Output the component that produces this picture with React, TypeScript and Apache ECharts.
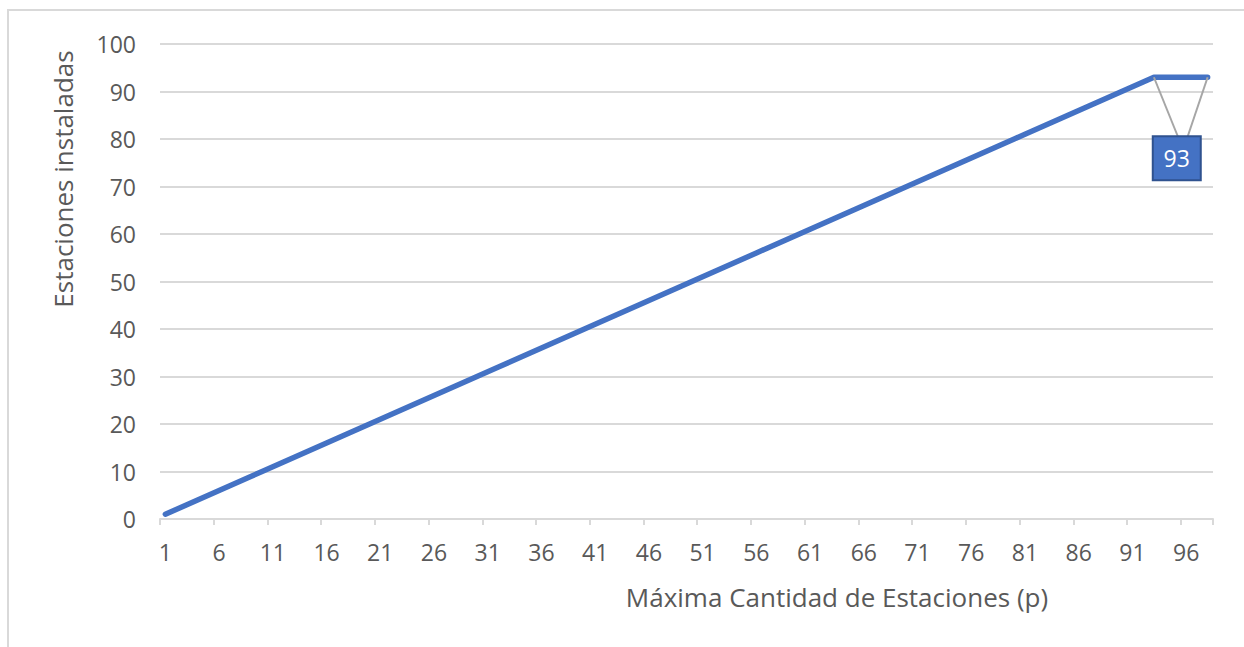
import React, { useEffect, useRef } from "react";
import * as echarts from "echarts";

const categories: string[] = [
  "1","2","3","4","5","6","7","8","9","10","11","12","13","14","15","16","17","18","19","20",
  "21","22","23","24","25","26","27","28","29","30","31","32","33","34","35","36","37","38","39","40",
  "41","42","43","44","45","46","47","48","49","50","51","52","53","54","55","56","57","58","59","60",
  "61","62","63","64","65","66","67","68","69","70","71","72","73","74","75","76","77","78","79","80",
  "81","82","83","84","85","86","87","88","89","90","91","92","93","94","95","96","97","98",
];

const installed: number[] = [
  1,2,3,4,5,6,7,8,9,10,11,12,13,14,15,16,17,18,19,20,
  21,22,23,24,25,26,27,28,29,30,31,32,33,34,35,36,37,38,39,40,
  41,42,43,44,45,46,47,48,49,50,51,52,53,54,55,56,57,58,59,60,
  61,62,63,64,65,66,67,68,69,70,71,72,73,74,75,76,77,78,79,80,
  81,82,83,84,85,86,87,88,89,90,91,92,93,93,93,93,93,93,
];

const labelFirstIndex = 92;
const labelLastIndex = 97;
const labelText = "93";

const FONT = "'Open Sans', sans-serif";

export default function App() {
  const ref = useRef<HTMLDivElement>(null);
  useEffect(() => {
    if (!ref.current) return;
    const chart = echarts.init(ref.current, null, { renderer: "svg" });
    chart.setOption({
      animation: false,
      backgroundColor: "#ffffff",
      textStyle: { fontFamily: FONT },
      grid: { left: 160, right: 31, top: 44, bottom: 128 },
      xAxis: {
        type: "category",
        data: categories,
        boundaryGap: true,
        axisLine: { lineStyle: { color: "#D9D9D9", width: 2 } },
        axisTick: { show: true, interval: 4, length: 6, lineStyle: { color: "#D9D9D9", width: 2 } },
        axisLabel: { interval: 4, color: "#595959", fontSize: 23, fontFamily: FONT, margin: 21 },
        splitLine: { show: false },
      },
      yAxis: {
        type: "value",
        min: 0,
        max: 100,
        interval: 10,
        axisLine: { show: false },
        axisTick: { show: false },
        axisLabel: { color: "#595959", fontSize: 23, fontFamily: FONT, margin: 24 },
        splitLine: { lineStyle: { color: "#D9D9D9", width: 2 } },
      },
      series: [
        {
          type: "line",
          data: installed,
          showSymbol: false,
          symbol: "none",
          lineStyle: { color: "#4472C4", width: 5.5, cap: "round", join: "round" },
        },
      ],
    });

    const p1 = chart.convertToPixel({ seriesIndex: 0 }, [labelFirstIndex, installed[labelFirstIndex]]) as number[];
    const p2 = chart.convertToPixel({ seriesIndex: 0 }, [labelLastIndex, installed[labelLastIndex]]) as number[];
    const boxW = 48;
    const boxH = 44;
    const cx = (p1[0] + p2[0]) / 2 - 4;
    const boxTop = p1[1] + 59;

    chart.setOption({
      graphic: [
        {
          type: "rect",
          shape: { x: 8, y: 10, width: 1300, height: 700 },
          style: { fill: "none", stroke: "#D9D9D9", lineWidth: 2 },
          silent: true,
          z: -10,
        },
        {
          type: "line",
          shape: { x1: p1[0], y1: p1[1], x2: cx + 1, y2: boxTop },
          style: { stroke: "#A6A6A6", lineWidth: 2 },
          z: 10,
        },
        {
          type: "line",
          shape: { x1: p2[0], y1: p2[1], x2: cx + 11, y2: boxTop },
          style: { stroke: "#A6A6A6", lineWidth: 2 },
          z: 10,
        },
        {
          type: "rect",
          shape: { x: cx - boxW / 2, y: boxTop, width: boxW, height: boxH },
          style: { fill: "#4472C4", stroke: "#2F528F", lineWidth: 2 },
          z: 11,
        },
        {
          type: "text",
          x: cx,
          y: boxTop + boxH / 2,
          style: {
            text: labelText,
            fill: "#ffffff",
            fontSize: 23,
            fontFamily: FONT,
            align: "center",
            verticalAlign: "middle",
          },
          z: 12,
        },
        {
          type: "text",
          x: 63,
          y: 179,
          rotation: Math.PI / 2,
          style: {
            text: "Estaciones instaladas",
            fill: "#595959",
            fontSize: 26,
            fontFamily: FONT,
            align: "center",
            verticalAlign: "middle",
          },
        },
        {
          type: "text",
          x: 837,
          y: 597,
          style: {
            text: "Máxima Cantidad de Estaciones (p)",
            fill: "#595959",
            fontSize: 26,
            fontFamily: FONT,
            align: "center",
            verticalAlign: "middle",
          },
        },
      ],
    });

    return () => chart.dispose();
  }, []);
  return (
    <div
      ref={ref}
      style={{ position: "fixed", left: 0, top: 0, width: 1244, height: 647 }}
    />
  );
}
